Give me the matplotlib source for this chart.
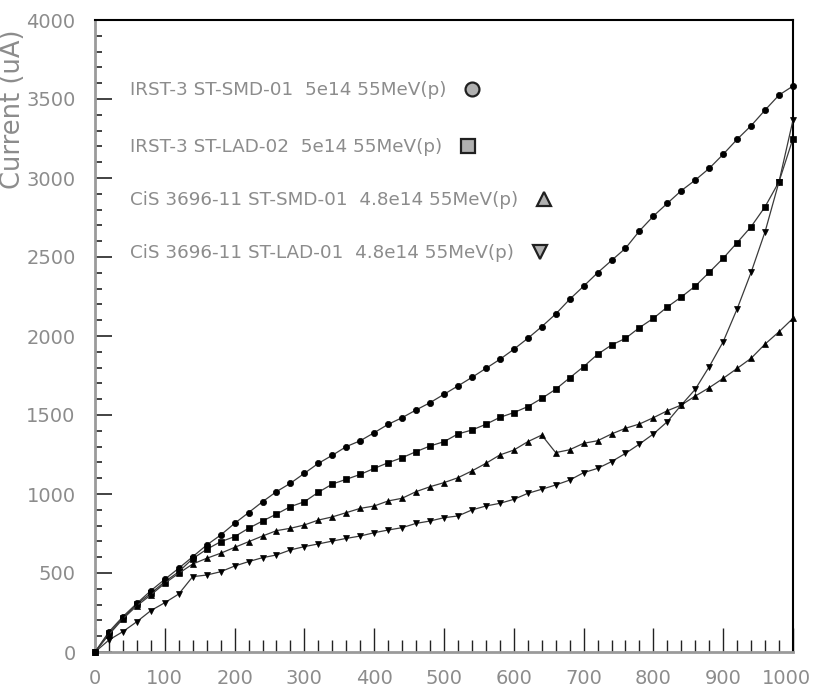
import matplotlib
matplotlib.use("Agg")
import matplotlib.pyplot as plt
from matplotlib import font_manager
from matplotlib.lines import Line2D
from matplotlib.legend import Legend
from matplotlib.ticker import MultipleLocator
from matplotlib.transforms import ScaledTranslation

# ---------------- data ----------------
voltage = list(range(0, 1001, 20))

irst_smd = [0, 128, 224, 308, 388, 460, 530, 603, 677, 740,
            814, 882, 951, 1015, 1068, 1131, 1194, 1245, 1300, 1337,
            1388, 1441, 1483, 1532, 1578, 1631, 1684, 1738, 1795, 1852,
            1916, 1985, 2059, 2139, 2232, 2315, 2400, 2478, 2555, 2665,
            2759, 2840, 2920, 2987, 3061, 3150, 3245, 3331, 3430, 3525,
            3582]

irst_lad = [0, 120, 215, 304, 371, 445, 508, 591, 650, 698,
            730, 783, 829, 873, 920, 951, 1011, 1063, 1093, 1124,
            1162, 1198, 1230, 1268, 1304, 1331, 1380, 1405, 1441, 1485,
            1515, 1553, 1605, 1663, 1735, 1806, 1884, 1943, 1985, 2053,
            2112, 2184, 2247, 2316, 2403, 2492, 2591, 2692, 2818, 2977,
            3250]

cis_smd = [0, 110, 210, 293, 361, 435, 498, 557, 593, 625,
           662, 698, 734, 768, 783, 804, 835, 855, 882, 909,
           924, 956, 973, 1015, 1046, 1072, 1103, 1146, 1194, 1247,
           1278, 1331, 1373, 1262, 1280, 1321, 1337, 1380, 1416, 1443,
           1483, 1527, 1563, 1620, 1673, 1732, 1795, 1859, 1949, 2027,
           2112]

cis_lad = [0, 76, 129, 192, 262, 312, 367, 477, 487, 508,
           544, 572, 597, 614, 646, 667, 684, 702, 719, 734,
           755, 772, 787, 814, 829, 850, 861, 899, 924, 941,
           966, 1004, 1030, 1057, 1088, 1135, 1162, 1205, 1257, 1316,
           1380, 1458, 1563, 1663, 1806, 1964, 2172, 2403, 2660, 2977,
           3367]

labels = ["IRST-3 ST-SMD-01  5e14 55MeV(p)",
          "IRST-3 ST-LAD-02  5e14 55MeV(p)",
          "CiS 3696-11 ST-SMD-01  4.8e14 55MeV(p)",
          "CiS 3696-11 ST-LAD-01  4.8e14 55MeV(p)"]
series = [irst_smd, irst_lad, cis_smd, cis_lad]
markers = ["o", "s", "^", "v"]
msizes = [4.5, 5, 5, 5]

x_ticks = list(range(0, 1001, 100))
y_ticks = list(range(0, 4001, 500))
y_label = "Current (uA)"

# ---------------- fonts ----------------
names = {f.name for f in font_manager.fontManager.ttflist}
narrow = "Liberation Sans Narrow" if "Liberation Sans Narrow" in names else "DejaVu Sans"
tick_size = 20 if narrow != "DejaVu Sans" else 14
leg_size = 17 if narrow != "DejaVu Sans" else 13.2

GRAY = "#8c8c8c"

# ---------------- figure ----------------
W, H = 816, 694
fig = plt.figure(figsize=(W / 100, H / 100), dpi=100)
fig.patch.set_facecolor("white")
L, R, T, B = 95, 793, 20, 652
ax = fig.add_axes([L / W, (H - B) / H, (R - L) / W, (B - T) / H])

for ys, m, ms in zip(series, markers, msizes):
    ax.plot(voltage, ys, color="#3a3a3a", lw=0.9, marker=m, ms=ms,
            mfc="black", mec="black", mew=0.5, clip_on=False, zorder=3)

ax.set_xlim(0, 1000)
ax.set_ylim(0, 4000)
ax.set_xticks(x_ticks)
ax.set_yticks(y_ticks)
ax.xaxis.set_minor_locator(MultipleLocator(20))
ax.yaxis.set_minor_locator(MultipleLocator(100))

ax.tick_params(axis="x", which="major", direction="in", length=17, width=1,
               color="#222222", pad=12, labelsize=tick_size, labelcolor=GRAY)
ax.tick_params(axis="x", which="minor", direction="in", length=9, width=1,
               color="#222222")
ax.tick_params(axis="y", which="major", direction="in", length=12, width=1.2,
               color="#222222", pad=14, labelsize=tick_size, labelcolor=GRAY)
ax.tick_params(axis="y", which="minor", direction="in", length=5, width=1.2,
               color="#222222")
for lab in ax.get_xticklabels() + ax.get_yticklabels():
    lab.set_fontfamily(narrow)

# nudge the last x tick label so it stays inside the canvas
last = ax.xaxis.get_major_ticks()[-1].label1
last.set_transform(last.get_transform() +
                   ScaledTranslation(-5 / 72, 0, fig.dpi_scale_trans))

ax.spines["left"].set_color("#9a9a9a")
ax.spines["left"].set_linewidth(2)
ax.spines["bottom"].set_color("#9a9a9a")
ax.spines["bottom"].set_linewidth(2)
ax.spines["top"].set_color("black")
ax.spines["top"].set_linewidth(1.5)
ax.spines["right"].set_color("black")
ax.spines["right"].set_linewidth(1.5)

ax.text(-0.117, 0.985, y_label, rotation=90, ha="center", va="top",
        transform=ax.transAxes, fontsize=18.5, color=GRAY, family="DejaVu Sans")

# ---------------- legend rows (marker after each text) ----------------
row_y = [0.889, 0.799, 0.715, 0.631]
for lbl, m, yy in zip(labels, markers, row_y):
    h = Line2D([], [], linestyle="none", marker=m, ms=10, mfc="#b0b0b0",
               mec="#202020", mew=1.6)
    lg = Legend(ax, [h], [lbl], loc="center left", bbox_to_anchor=(0.050, yy),
                frameon=False, markerfirst=False, handlelength=1.0,
                handletextpad=0.9, borderpad=0, borderaxespad=0,
                prop={"family": narrow, "size": leg_size})
    for t in lg.get_texts():
        t.set_color(GRAY)
    ax.add_artist(lg)

fig.savefig("out.png", dpi=100, facecolor="white")
